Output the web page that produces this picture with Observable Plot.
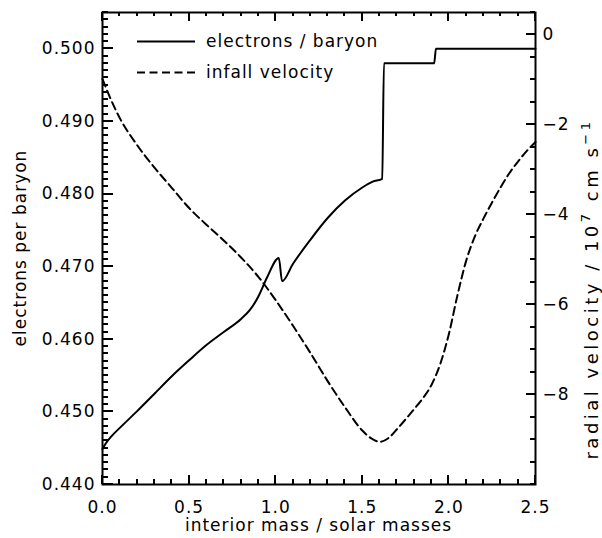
<!DOCTYPE html>
<html><head><meta charset="utf-8">
<script src="https://cdn.jsdelivr.net/npm/d3@7"></script>
<script src="https://cdn.jsdelivr.net/npm/@observablehq/plot@0.6"></script>
<style>
html,body{margin:0;padding:0;background:#fff;}
#chart{position:relative;width:602px;height:538px;}
</style></head><body><div id="chart"></div>
<script>
// electrons per baryon vs interior mass
const massE = [0, 0.02, 0.05, 0.1, 0.2, 0.3, 0.4, 0.5, 0.6, 0.7, 0.8, 0.85, 0.9, 0.95, 1.018, 1.037, 1.1, 1.2, 1.3, 1.4, 1.5, 1.56, 1.615, 1.625, 1.915, 1.925, 2.5];
const electrons = [0.4449, 0.4457, 0.4466, 0.4478, 0.4501, 0.4525, 0.4549, 0.4571, 0.4592, 0.4610, 0.4628, 0.4640, 0.4659, 0.4685, 0.4712, 0.4680, 0.4704, 0.4737, 0.4767, 0.4791, 0.4809, 0.4817, 0.4821, 0.4980, 0.4980, 0.5000, 0.5000];
// infall (radial) velocity, 10^7 cm/s
const massV = [0, 0.05, 0.1, 0.2, 0.3, 0.4, 0.5, 0.6, 0.7, 0.8, 0.9, 1.0, 1.1, 1.2, 1.3, 1.4, 1.5, 1.55, 1.6, 1.65, 1.7, 1.75, 1.8, 1.85, 1.9, 1.95, 2.0, 2.05, 2.1, 2.15, 2.2, 2.25, 2.3, 2.35, 2.4, 2.45, 2.5];
const velocity = [-0.98, -1.45, -1.85, -2.45, -2.95, -3.40, -3.85, -4.22, -4.57, -4.95, -5.38, -5.90, -6.47, -7.07, -7.70, -8.28, -8.80, -8.97, -9.05, -8.97, -8.77, -8.55, -8.32, -8.08, -7.78, -7.32, -6.65, -5.78, -5.02, -4.48, -4.08, -3.72, -3.38, -3.07, -2.81, -2.58, -2.38];

const xTicks = [0, 0.5, 1.0, 1.5, 2.0, 2.5];
const eTicks = [0.440, 0.450, 0.460, 0.470, 0.480, 0.490, 0.500];
const vTicks = [0, -2, -4, -6, -8];
const xLabel = "interior mass / solar masses";
const eLabel = "electrons per baryon";
const legendLabels = ["electrons / baryon", "infall velocity"];

const xMinor = d3.range(0, 2.5001, 0.1);
const eMinor = d3.range(0.440, 0.5051, 0.001);
const vMinor = d3.range(-10, 0.5001, 0.5);

const W = 602, H = 538, MT = 12, MR = 67, MB = 54, ML = 102;
const xDomain = [0, 2.5];
const eDomain = [0.44, 0.505];
const vDomain = [-10, 0.5];
const vToE = d3.scaleLinear().domain(vDomain).range(eDomain);

const eData = massE.map((m, i) => ({m, e: electrons[i]}));
const vData = massV.map((m, i) => ({m, v: velocity[i]}));

const FONT = "DejaVu Sans";
const fmtV = d => d3.format("d")(Math.round(vToE.invert(d)));

const plot = Plot.plot({
  width: W, height: H,
  marginTop: MT, marginRight: MR, marginBottom: MB, marginLeft: ML,
  style: {fontFamily: FONT, fontSize: "17px", letterSpacing: "1px", color: "#000", background: "#fff"},
  x: {domain: xDomain},
  y: {domain: eDomain},
  marks: [
    Plot.axisX(xTicks, {anchor: "bottom", tickSize: 0, tickPadding: 16, tickFormat: d3.format(".1f"), label: null}),
    Plot.axisY(eTicks, {anchor: "left", tickSize: 0, tickPadding: 7, tickFormat: d3.format(".3f"), label: null}),
    Plot.axisY(vTicks.map(vToE), {anchor: "right", tickSize: 0, tickPadding: 7, tickFormat: fmtV, label: null}),
    Plot.line(eData, {x: "m", y: "e", stroke: "#000", strokeWidth: 2, curve: "monotone-x"}),
    Plot.line(vData, {x: "m", y: d => vToE(d.v), stroke: "#000", strokeWidth: 2, strokeDasharray: "8,4.5", curve: "monotone-x"}),
    Plot.frame({stroke: "#000", strokeWidth: 2})
  ]
});
document.getElementById("chart").appendChild(plot);

const svg = d3.select(plot);
// inward tick marks, positioned through the plot's own scales
const sx = plot.scale("x"), sy = plot.scale("y");
const X = v => Math.round(sx.apply(v)), Y = v => Math.round(sy.apply(v));
const xL = X(xDomain[0]), xR = X(xDomain[1]), yB = Y(eDomain[0]), yT = Y(eDomain[1]);
const tg = svg.append("g");
function seg(x1, y1, x2, y2) { tg.append("line").attr("x1", x1).attr("y1", y1).attr("x2", x2).attr("y2", y2).attr("stroke", "#000").attr("stroke-width", 2); }
xMinor.forEach(v => { seg(X(v), yB, X(v), yB - 5); seg(X(v), yT, X(v), yT + 4); });
xTicks.forEach(v => { seg(X(v), yB, X(v), yB - 9); seg(X(v), yT, X(v), yT + 9); });
eMinor.forEach(v => seg(xL, Y(v), xL + 6, Y(v)));
eTicks.forEach(v => seg(xL, Y(v), xL + 11, Y(v)));
vMinor.forEach(v => seg(xR, Y(vToE(v)), xR - 5, Y(vToE(v))));
vTicks.forEach(v => seg(xR, Y(vToE(v)), xR - 9, Y(vToE(v))));

const g = svg.append("g").attr("font-family", FONT).attr("font-size", 17).attr("letter-spacing", "1px").attr("fill", "#000");
// axis titles
g.append("text").attr("x", 318.5).attr("y", 531).attr("text-anchor", "middle").text(xLabel);
g.append("text").attr("transform", "translate(26,248) rotate(-90)").attr("text-anchor", "middle").text(eLabel);
const rt = g.append("text").attr("transform", "translate(598,289) rotate(-90)").attr("text-anchor", "middle")
  .attr("font-size", 18).attr("letter-spacing", "3.5px");
rt.append("tspan").text("radial velocity / 10");
rt.append("tspan").attr("dy", -8).attr("font-size", 13).text("7");
rt.append("tspan").attr("dy", 8).text(" cm s");
rt.append("tspan").attr("dy", -8).attr("font-size", 13).text("\u22121");
// legend
const lg = svg.append("g");
lg.append("line").attr("x1", 137).attr("x2", 195).attr("y1", 41.5).attr("y2", 41.5).attr("stroke", "#000").attr("stroke-width", 2);
lg.append("line").attr("x1", 137).attr("x2", 195).attr("y1", 72.5).attr("y2", 72.5).attr("stroke", "#000").attr("stroke-width", 2).attr("stroke-dasharray", "8,4.5");
g.append("text").attr("x", 206).attr("y", 47).attr("text-anchor", "start").text(legendLabels[0]);
g.append("text").attr("x", 206).attr("y", 78).attr("text-anchor", "start").text(legendLabels[1]);
</script></body></html>
